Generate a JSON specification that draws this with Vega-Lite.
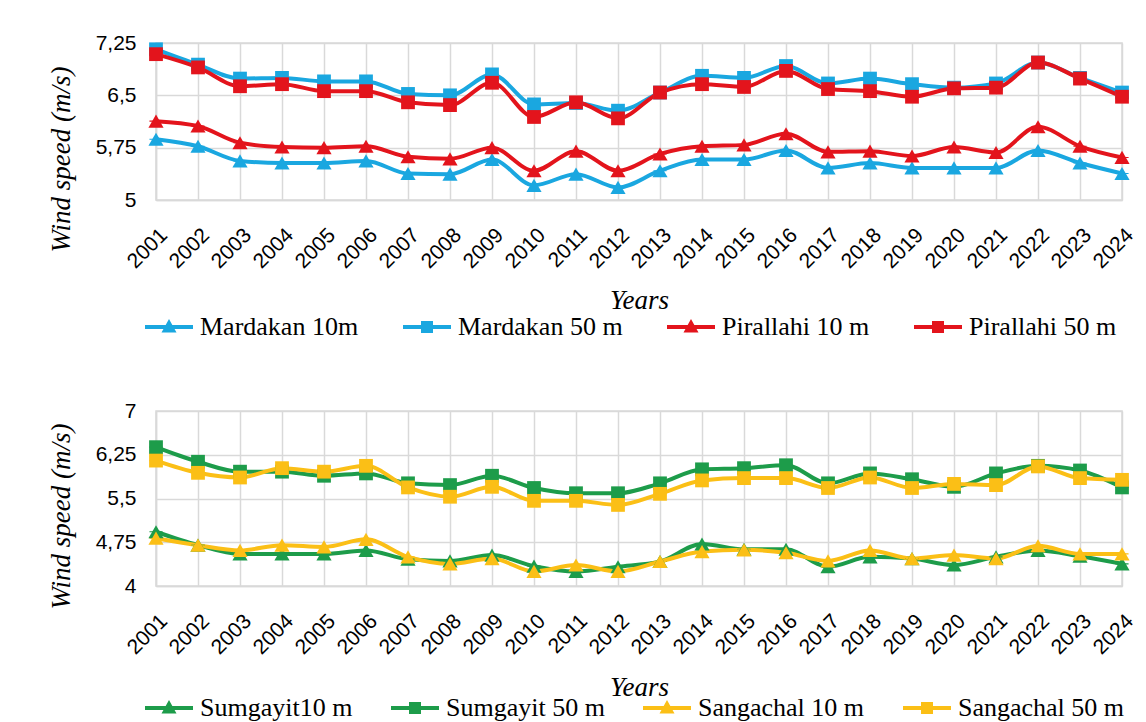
{
  "$schema": "https://vega.github.io/schema/vega-lite/v6.json",
  "background": "white",
  "padding": {"left": 46, "top": 31, "right": 6, "bottom": 0},
  "datasets": {
    "top": [
      {"year":"2001","series":"Mardakan 10m","value":5.87},{"year":"2001","series":"Mardakan 50 m","value":7.16},{"year":"2001","series":"Pirallahi 10 m","value":6.13},{"year":"2001","series":"Pirallahi 50 m","value":7.09},
      {"year":"2002","series":"Mardakan 10m","value":5.77},{"year":"2002","series":"Mardakan 50 m","value":6.94},{"year":"2002","series":"Pirallahi 10 m","value":6.06},{"year":"2002","series":"Pirallahi 50 m","value":6.90},
      {"year":"2003","series":"Mardakan 10m","value":5.56},{"year":"2003","series":"Mardakan 50 m","value":6.74},{"year":"2003","series":"Pirallahi 10 m","value":5.82},{"year":"2003","series":"Pirallahi 50 m","value":6.63},
      {"year":"2004","series":"Mardakan 10m","value":5.53},{"year":"2004","series":"Mardakan 50 m","value":6.75},{"year":"2004","series":"Pirallahi 10 m","value":5.76},{"year":"2004","series":"Pirallahi 50 m","value":6.66},
      {"year":"2005","series":"Mardakan 10m","value":5.53},{"year":"2005","series":"Mardakan 50 m","value":6.70},{"year":"2005","series":"Pirallahi 10 m","value":5.75},{"year":"2005","series":"Pirallahi 50 m","value":6.56},
      {"year":"2006","series":"Mardakan 10m","value":5.56},{"year":"2006","series":"Mardakan 50 m","value":6.70},{"year":"2006","series":"Pirallahi 10 m","value":5.77},{"year":"2006","series":"Pirallahi 50 m","value":6.56},
      {"year":"2007","series":"Mardakan 10m","value":5.38},{"year":"2007","series":"Mardakan 50 m","value":6.52},{"year":"2007","series":"Pirallahi 10 m","value":5.62},{"year":"2007","series":"Pirallahi 50 m","value":6.40},
      {"year":"2008","series":"Mardakan 10m","value":5.37},{"year":"2008","series":"Mardakan 50 m","value":6.50},{"year":"2008","series":"Pirallahi 10 m","value":5.59},{"year":"2008","series":"Pirallahi 50 m","value":6.36},
      {"year":"2009","series":"Mardakan 10m","value":5.58},{"year":"2009","series":"Mardakan 50 m","value":6.80},{"year":"2009","series":"Pirallahi 10 m","value":5.75},{"year":"2009","series":"Pirallahi 50 m","value":6.68},
      {"year":"2010","series":"Mardakan 10m","value":5.21},{"year":"2010","series":"Mardakan 50 m","value":6.37},{"year":"2010","series":"Pirallahi 10 m","value":5.42},{"year":"2010","series":"Pirallahi 50 m","value":6.19},
      {"year":"2011","series":"Mardakan 10m","value":5.37},{"year":"2011","series":"Mardakan 50 m","value":6.39},{"year":"2011","series":"Pirallahi 10 m","value":5.70},{"year":"2011","series":"Pirallahi 50 m","value":6.40},
      {"year":"2012","series":"Mardakan 10m","value":5.18},{"year":"2012","series":"Mardakan 50 m","value":6.28},{"year":"2012","series":"Pirallahi 10 m","value":5.42},{"year":"2012","series":"Pirallahi 50 m","value":6.17},
      {"year":"2013","series":"Mardakan 10m","value":5.42},{"year":"2013","series":"Mardakan 50 m","value":6.54},{"year":"2013","series":"Pirallahi 10 m","value":5.66},{"year":"2013","series":"Pirallahi 50 m","value":6.54},
      {"year":"2014","series":"Mardakan 10m","value":5.58},{"year":"2014","series":"Mardakan 50 m","value":6.78},{"year":"2014","series":"Pirallahi 10 m","value":5.77},{"year":"2014","series":"Pirallahi 50 m","value":6.66},
      {"year":"2015","series":"Mardakan 10m","value":5.58},{"year":"2015","series":"Mardakan 50 m","value":6.75},{"year":"2015","series":"Pirallahi 10 m","value":5.79},{"year":"2015","series":"Pirallahi 50 m","value":6.62},
      {"year":"2016","series":"Mardakan 10m","value":5.71},{"year":"2016","series":"Mardakan 50 m","value":6.92},{"year":"2016","series":"Pirallahi 10 m","value":5.95},{"year":"2016","series":"Pirallahi 50 m","value":6.85},
      {"year":"2017","series":"Mardakan 10m","value":5.46},{"year":"2017","series":"Mardakan 50 m","value":6.67},{"year":"2017","series":"Pirallahi 10 m","value":5.69},{"year":"2017","series":"Pirallahi 50 m","value":6.59},
      {"year":"2018","series":"Mardakan 10m","value":5.53},{"year":"2018","series":"Mardakan 50 m","value":6.74},{"year":"2018","series":"Pirallahi 10 m","value":5.70},{"year":"2018","series":"Pirallahi 50 m","value":6.56},
      {"year":"2019","series":"Mardakan 10m","value":5.46},{"year":"2019","series":"Mardakan 50 m","value":6.66},{"year":"2019","series":"Pirallahi 10 m","value":5.63},{"year":"2019","series":"Pirallahi 50 m","value":6.48},
      {"year":"2020","series":"Mardakan 10m","value":5.46},{"year":"2020","series":"Mardakan 50 m","value":6.61},{"year":"2020","series":"Pirallahi 10 m","value":5.76},{"year":"2020","series":"Pirallahi 50 m","value":6.60},
      {"year":"2021","series":"Mardakan 10m","value":5.46},{"year":"2021","series":"Mardakan 50 m","value":6.67},{"year":"2021","series":"Pirallahi 10 m","value":5.68},{"year":"2021","series":"Pirallahi 50 m","value":6.61},
      {"year":"2022","series":"Mardakan 10m","value":5.71},{"year":"2022","series":"Mardakan 50 m","value":6.97},{"year":"2022","series":"Pirallahi 10 m","value":6.05},{"year":"2022","series":"Pirallahi 50 m","value":6.97},
      {"year":"2023","series":"Mardakan 10m","value":5.53},{"year":"2023","series":"Mardakan 50 m","value":6.75},{"year":"2023","series":"Pirallahi 10 m","value":5.77},{"year":"2023","series":"Pirallahi 50 m","value":6.74},
      {"year":"2024","series":"Mardakan 10m","value":5.38},{"year":"2024","series":"Mardakan 50 m","value":6.54},{"year":"2024","series":"Pirallahi 10 m","value":5.61},{"year":"2024","series":"Pirallahi 50 m","value":6.48}
    ],
    "bottom": [
      {"year":"2001","series":"Sumgayit10 m","value":4.93},{"year":"2001","series":"Sumgayit 50 m","value":6.38},{"year":"2001","series":"Sangachal 10 m","value":4.82},{"year":"2001","series":"Sangachal 50 m","value":6.15},
      {"year":"2002","series":"Sumgayit10 m","value":4.70},{"year":"2002","series":"Sumgayit 50 m","value":6.13},{"year":"2002","series":"Sangachal 10 m","value":4.70},{"year":"2002","series":"Sangachal 50 m","value":5.94},
      {"year":"2003","series":"Sumgayit10 m","value":4.55},{"year":"2003","series":"Sumgayit 50 m","value":5.96},{"year":"2003","series":"Sangachal 10 m","value":4.61},{"year":"2003","series":"Sangachal 50 m","value":5.86},
      {"year":"2004","series":"Sumgayit10 m","value":4.55},{"year":"2004","series":"Sumgayit 50 m","value":5.96},{"year":"2004","series":"Sangachal 10 m","value":4.70},{"year":"2004","series":"Sangachal 50 m","value":6.02},
      {"year":"2005","series":"Sumgayit10 m","value":4.55},{"year":"2005","series":"Sumgayit 50 m","value":5.89},{"year":"2005","series":"Sangachal 10 m","value":4.67},{"year":"2005","series":"Sangachal 50 m","value":5.96},
      {"year":"2006","series":"Sumgayit10 m","value":4.61},{"year":"2006","series":"Sumgayit 50 m","value":5.93},{"year":"2006","series":"Sangachal 10 m","value":4.80},{"year":"2006","series":"Sangachal 50 m","value":6.06},
      {"year":"2007","series":"Sumgayit10 m","value":4.46},{"year":"2007","series":"Sumgayit 50 m","value":5.76},{"year":"2007","series":"Sangachal 10 m","value":4.50},{"year":"2007","series":"Sangachal 50 m","value":5.69},
      {"year":"2008","series":"Sumgayit10 m","value":4.43},{"year":"2008","series":"Sumgayit 50 m","value":5.73},{"year":"2008","series":"Sangachal 10 m","value":4.38},{"year":"2008","series":"Sangachal 50 m","value":5.53},
      {"year":"2009","series":"Sumgayit10 m","value":4.53},{"year":"2009","series":"Sumgayit 50 m","value":5.89},{"year":"2009","series":"Sangachal 10 m","value":4.47},{"year":"2009","series":"Sangachal 50 m","value":5.70},
      {"year":"2010","series":"Sumgayit10 m","value":4.34},{"year":"2010","series":"Sumgayit 50 m","value":5.68},{"year":"2010","series":"Sangachal 10 m","value":4.25},{"year":"2010","series":"Sangachal 50 m","value":5.46},
      {"year":"2011","series":"Sumgayit10 m","value":4.25},{"year":"2011","series":"Sumgayit 50 m","value":5.59},{"year":"2011","series":"Sangachal 10 m","value":4.36},{"year":"2011","series":"Sangachal 50 m","value":5.46},
      {"year":"2012","series":"Sumgayit10 m","value":4.33},{"year":"2012","series":"Sumgayit 50 m","value":5.59},{"year":"2012","series":"Sangachal 10 m","value":4.25},{"year":"2012","series":"Sangachal 50 m","value":5.39},
      {"year":"2013","series":"Sumgayit10 m","value":4.42},{"year":"2013","series":"Sumgayit 50 m","value":5.76},{"year":"2013","series":"Sangachal 10 m","value":4.42},{"year":"2013","series":"Sangachal 50 m","value":5.58},
      {"year":"2014","series":"Sumgayit10 m","value":4.72},{"year":"2014","series":"Sumgayit 50 m","value":6.00},{"year":"2014","series":"Sangachal 10 m","value":4.59},{"year":"2014","series":"Sangachal 50 m","value":5.81},
      {"year":"2015","series":"Sumgayit10 m","value":4.63},{"year":"2015","series":"Sumgayit 50 m","value":6.02},{"year":"2015","series":"Sangachal 10 m","value":4.62},{"year":"2015","series":"Sangachal 50 m","value":5.85},
      {"year":"2016","series":"Sumgayit10 m","value":4.63},{"year":"2016","series":"Sumgayit 50 m","value":6.07},{"year":"2016","series":"Sangachal 10 m","value":4.57},{"year":"2016","series":"Sangachal 50 m","value":5.85},
      {"year":"2017","series":"Sumgayit10 m","value":4.33},{"year":"2017","series":"Sumgayit 50 m","value":5.76},{"year":"2017","series":"Sangachal 10 m","value":4.43},{"year":"2017","series":"Sangachal 50 m","value":5.68},
      {"year":"2018","series":"Sumgayit10 m","value":4.50},{"year":"2018","series":"Sumgayit 50 m","value":5.93},{"year":"2018","series":"Sangachal 10 m","value":4.61},{"year":"2018","series":"Sangachal 50 m","value":5.86},
      {"year":"2019","series":"Sumgayit10 m","value":4.47},{"year":"2019","series":"Sumgayit 50 m","value":5.83},{"year":"2019","series":"Sangachal 10 m","value":4.47},{"year":"2019","series":"Sangachal 50 m","value":5.68},
      {"year":"2020","series":"Sumgayit10 m","value":4.36},{"year":"2020","series":"Sumgayit 50 m","value":5.70},{"year":"2020","series":"Sangachal 10 m","value":4.53},{"year":"2020","series":"Sangachal 50 m","value":5.75},
      {"year":"2021","series":"Sumgayit10 m","value":4.50},{"year":"2021","series":"Sumgayit 50 m","value":5.93},{"year":"2021","series":"Sangachal 10 m","value":4.47},{"year":"2021","series":"Sangachal 50 m","value":5.73},
      {"year":"2022","series":"Sumgayit10 m","value":4.61},{"year":"2022","series":"Sumgayit 50 m","value":6.06},{"year":"2022","series":"Sangachal 10 m","value":4.69},{"year":"2022","series":"Sangachal 50 m","value":6.05},
      {"year":"2023","series":"Sumgayit10 m","value":4.51},{"year":"2023","series":"Sumgayit 50 m","value":5.98},{"year":"2023","series":"Sangachal 10 m","value":4.55},{"year":"2023","series":"Sangachal 50 m","value":5.85},
      {"year":"2024","series":"Sumgayit10 m","value":4.38},{"year":"2024","series":"Sumgayit 50 m","value":5.69},{"year":"2024","series":"Sangachal 10 m","value":4.55},{"year":"2024","series":"Sangachal 50 m","value":5.82}
    ]
  },
  "vconcat": [
    {
      "width": 966,
      "height": 157,
      "data": {"name": "top"},
      "encoding": {
        "x": {"field": "year", "type": "ordinal", "scale": {"type": "point", "padding": 0},
              "axis": {"title": "Years", "labelAngle": -45, "grid": true, "labelPadding": 24, "titlePadding": 16}},
        "y": {"field": "value", "type": "quantitative", "scale": {"domain": [5, 7.25], "nice": false, "zero": false},
              "axis": {"title": "Wind speed (m/s)", "values": [5, 5.75, 6.5, 7.25], "labelExpr": "replace(toString(datum.value), '.', ',')", "labelPadding": 20, "titlePadding": 20, "titleY": 116}},
        "color": {"field": "series", "type": "nominal",
                  "scale": {"domain": ["Mardakan 10m", "Mardakan 50 m", "Pirallahi 10 m", "Pirallahi 50 m"], "range": ["#1aa7e0", "#1aa7e0", "#e3141c", "#e3141c"]},
                  "legend": {"title": null, "offset": 0}},
        "shape": {"field": "series", "type": "nominal", "legend": {"title": null, "offset": 0},
                  "scale": {"domain": ["Mardakan 10m", "Mardakan 50 m", "Pirallahi 10 m", "Pirallahi 50 m"],
                            "range": ["M-2.4,-0.2 L2.4,-0.2 L2.4,0.2 L-2.4,0.2 Z M0,-0.8 L0.75,0.55 L-0.75,0.55 Z",
                                      "M-2.4,-0.2 L2.4,-0.2 L2.4,0.2 L-2.4,0.2 Z M-0.6,-0.6 L0.6,-0.6 L0.6,0.6 L-0.6,0.6 Z",
                                      "M-2.4,-0.2 L2.4,-0.2 L2.4,0.2 L-2.4,0.2 Z M0,-0.8 L0.75,0.55 L-0.75,0.55 Z",
                                      "M-2.4,-0.2 L2.4,-0.2 L2.4,0.2 L-2.4,0.2 Z M-0.6,-0.6 L0.6,-0.6 L0.6,0.6 L-0.6,0.6 Z"]}}
      },
      "layer": [
        {"mark": {"type": "line", "strokeWidth": 4, "interpolate": "monotone"}},
        {"transform": [{"filter": {"field": "series", "oneOf": ["Mardakan 10m", "Pirallahi 10 m"]}}],
         "mark": {"type": "point", "shape": "triangle-up", "filled": true, "opacity": 1, "size": 230, "strokeWidth": 0},
         "encoding": {"shape": {"value": "triangle-up"}}},
        {"transform": [{"filter": {"field": "series", "oneOf": ["Mardakan 50 m", "Pirallahi 50 m"]}}],
         "mark": {"type": "point", "shape": "square", "filled": true, "opacity": 1, "size": 190, "strokeWidth": 0},
         "encoding": {"shape": {"value": "square"}}}
      ]
    },
    {
      "width": 966,
      "height": 175,
      "data": {"name": "bottom"},
      "encoding": {
        "x": {"field": "year", "type": "ordinal", "scale": {"type": "point", "padding": 0},
              "axis": {"title": "Years", "labelAngle": -45, "grid": true, "labelPadding": 24, "titlePadding": 17}},
        "y": {"field": "value", "type": "quantitative", "scale": {"domain": [4, 7], "nice": false, "zero": false},
              "axis": {"title": "Wind speed (m/s)", "values": [4, 4.75, 5.5, 6.25, 7], "labelExpr": "replace(toString(datum.value), '.', ',')", "labelPadding": 20, "titlePadding": 20, "titleY": 105}},
        "color": {"field": "series", "type": "nominal",
                  "scale": {"domain": ["Sumgayit10 m", "Sumgayit 50 m", "Sangachal 10 m", "Sangachal 50 m"], "range": ["#1d9c4a", "#1d9c4a", "#fbbf16", "#fbbf16"]},
                  "legend": {"title": null, "offset": -6, "columnPadding": 38}},
        "shape": {"field": "series", "type": "nominal", "legend": {"title": null, "offset": -6, "columnPadding": 38},
                  "scale": {"domain": ["Sumgayit10 m", "Sumgayit 50 m", "Sangachal 10 m", "Sangachal 50 m"],
                            "range": ["M-2.4,-0.2 L2.4,-0.2 L2.4,0.2 L-2.4,0.2 Z M0,-0.8 L0.75,0.55 L-0.75,0.55 Z",
                                      "M-2.4,-0.2 L2.4,-0.2 L2.4,0.2 L-2.4,0.2 Z M-0.6,-0.6 L0.6,-0.6 L0.6,0.6 L-0.6,0.6 Z",
                                      "M-2.4,-0.2 L2.4,-0.2 L2.4,0.2 L-2.4,0.2 Z M0,-0.8 L0.75,0.55 L-0.75,0.55 Z",
                                      "M-2.4,-0.2 L2.4,-0.2 L2.4,0.2 L-2.4,0.2 Z M-0.6,-0.6 L0.6,-0.6 L0.6,0.6 L-0.6,0.6 Z"]}}
      },
      "layer": [
        {"mark": {"type": "line", "strokeWidth": 4, "interpolate": "monotone"}},
        {"transform": [{"filter": {"field": "series", "oneOf": ["Sumgayit10 m", "Sangachal 10 m"]}}],
         "mark": {"type": "point", "shape": "triangle-up", "filled": true, "opacity": 1, "size": 230, "strokeWidth": 0},
         "encoding": {"shape": {"value": "triangle-up"}}},
        {"transform": [{"filter": {"field": "series", "oneOf": ["Sumgayit 50 m", "Sangachal 50 m"]}}],
         "mark": {"type": "point", "shape": "square", "filled": true, "opacity": 1, "size": 190, "strokeWidth": 0},
         "encoding": {"shape": {"value": "square"}}}
      ]
    }
  ],
  "resolve": {
    "scale": {"color": "independent", "shape": "independent", "y": "independent", "x": "independent"},
    "legend": {"color": "independent", "shape": "independent"}
  },
  "config": {
    "font": "Liberation Sans",
    "concat": {"spacing": 58},
    "view": {"stroke": "#d9d9d9", "strokeWidth": 1.5},
    "axis": {
      "gridColor": "#d9d9d9", "gridWidth": 1.5, "gridOpacity": 1,
      "domainColor": "#d9d9d9", "domainWidth": 1.5,
      "ticks": false,
      "labelColor": "#000000", "labelFont": "Liberation Sans", "labelFontSize": 21,
      "titleFont": "Liberation Serif", "titleFontStyle": "italic", "titleFontWeight": "normal", "titleFontSize": 27, "titleColor": "#000000"
    },
    "legend": {
      "orient": "bottom", "direction": "horizontal",
      "labelFont": "Liberation Serif", "labelFontSize": 26, "labelColor": "#000000", "labelLimit": 400,
      "symbolSize": 400, "symbolStrokeWidth": 0, "symbolOpacity": 1,
      "columnPadding": 44, "labelOffset": 18
    }
  }
}
